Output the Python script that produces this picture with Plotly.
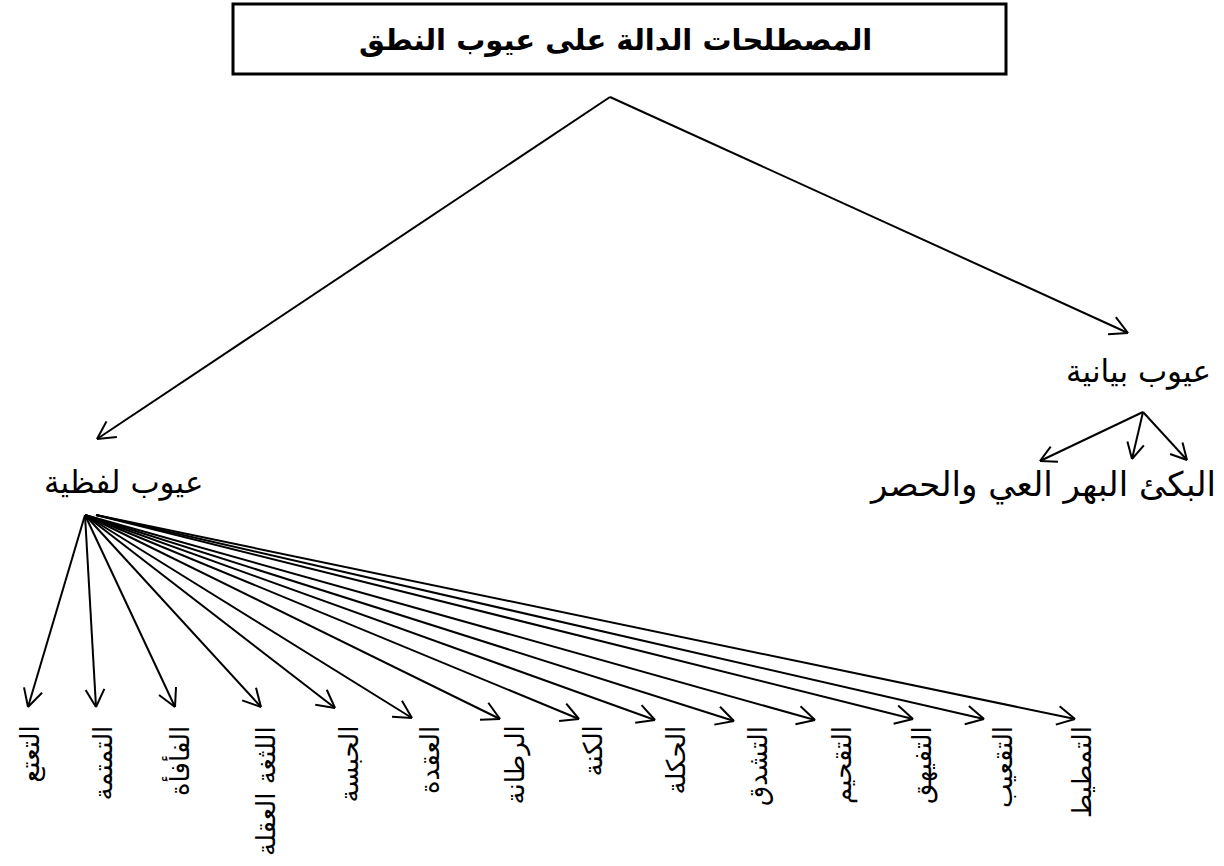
import math
import plotly.graph_objects as go

# ---- data (text of the tree) ----
title_text = "المصطلحات الدالة على عيوب النطق"
branch_labels = ["عيوب لفظية", "عيوب بيانية"]
bayan_children = "البكئ البهر العي والحصر"
lafz_children = ["التعتع", "التمتمة", "الفأفأة", "اللثغة العقلة", "الحبسة", "العقدة",
                 "الرطانة", "الكنة", "الحكلة", "التشدق", "التقحيم", "التفيهق",
                 "التقعيب", "التمطيط"]

# ---- layout geometry (pixels, y down) ----
W, H = 1224, 866
root_pt = (610, 97)
branch_tips = [(97, 439), (1128, 333)]
bayan_origin = (1143, 412)
bayan_tips = [(1040, 461), (1132, 459), (1187, 460)]
lafz_origins = [(85, 515)] * 11 + [(96, 515)] * 3
lafz_tips = [(28, 707), (96, 707), (175, 707), (261, 707), (335, 708), (412, 718),
             (500, 719), (579, 719), (655, 720), (734, 721), (815, 720), (913, 719),
             (984, 719), (1075, 719)]
lafz_label_x = [30, 102, 178, 266, 348, 430, 515, 592, 675, 758, 842, 922, 1003, 1082]
label_top = 724

xs, ys = [], []


def arrow(p0, p1, head=20, ang=28):
    xs.extend([p0[0], p1[0], None])
    ys.extend([p0[1], p1[1], None])
    dx, dy = p0[0] - p1[0], p0[1] - p1[1]
    d = math.hypot(dx, dy)
    ux, uy = dx / d, dy / d
    for s in (1, -1):
        a = math.radians(ang * s)
        hx = ux * math.cos(a) - uy * math.sin(a)
        hy = ux * math.sin(a) + uy * math.cos(a)
        xs.extend([p1[0], p1[0] + head * hx, None])
        ys.extend([p1[1], p1[1] + head * hy, None])


for t in branch_tips:
    arrow(root_pt, t)
for t in bayan_tips:
    arrow(bayan_origin, t, head=18)
for o, t in zip(lafz_origins, lafz_tips):
    arrow(o, t)

fig = go.Figure()
fig.add_trace(go.Scatter(x=xs, y=ys, mode="lines",
                         line=dict(color="black", width=2),
                         hoverinfo="skip", showlegend=False))

fig.add_shape(type="rect", x0=233, y0=4, x1=1006, y1=74,
              line=dict(color="black", width=3), fillcolor="white", layer="below")

font_ar = "DejaVu Sans"
fig.add_annotation(x=615, y=40, text="<b>" + title_text + "</b>", showarrow=False,
                   font=dict(family=font_ar, size=29, color="black"))
fig.add_annotation(x=42, y=482, text=branch_labels[0], showarrow=False,
                   xanchor="left", font=dict(family=font_ar, size=31, color="black"))
fig.add_annotation(x=1213, y=371, text=branch_labels[1], showarrow=False,
                   xanchor="right", font=dict(family=font_ar, size=31, color="black"))
fig.add_annotation(x=1218, y=484, text=bayan_children, showarrow=False,
                   xanchor="right", font=dict(family=font_ar, size=34, color="black"))
for lab, lx in zip(lafz_children, lafz_label_x):
    fig.add_annotation(x=lx, y=label_top, text=lab, showarrow=False, textangle=-90,
                       yanchor="top", xanchor="center",
                       font=dict(family=font_ar, size=26, color="black"))

fig.update_xaxes(range=[0, W], visible=False, fixedrange=True)
fig.update_yaxes(range=[H, 0], visible=False, fixedrange=True)
fig.update_layout(width=W, height=H, margin=dict(l=0, r=0, t=0, b=0),
                  plot_bgcolor="white", paper_bgcolor="white")

fig.write_html("out.html", config={"displayModeBar": False, "staticPlot": True},
               post_script="document.body.style.margin='0';document.body.style.overflow='hidden';")
